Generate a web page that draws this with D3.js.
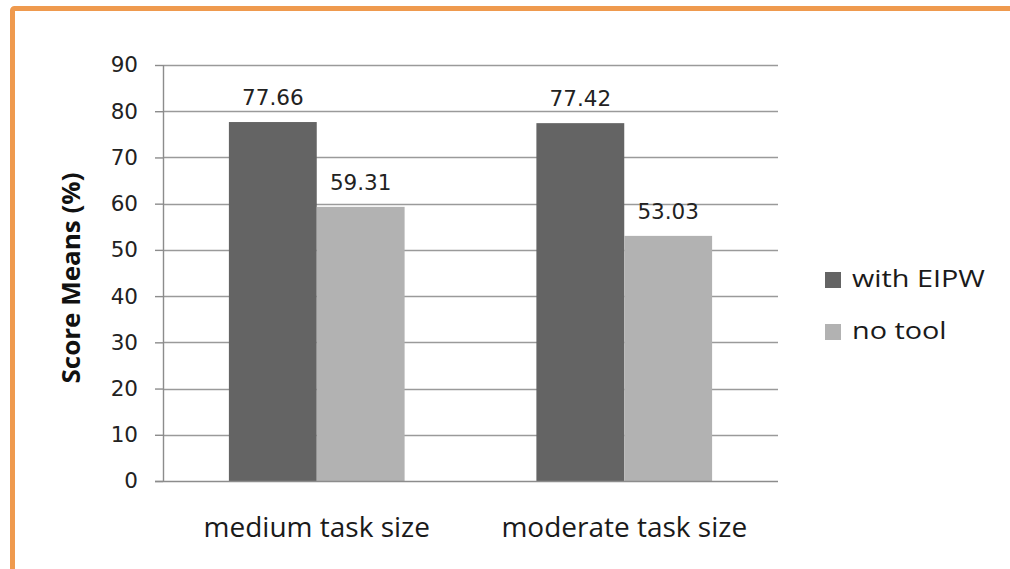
<!DOCTYPE html>
<html>
<head>
<meta charset="utf-8">
<script src="https://cdn.jsdelivr.net/npm/d3@7/dist/d3.min.js"></script>
<style>
  html, body { margin: 0; padding: 0; background: #ffffff; }
  svg { display: block; }
</style>
</head>
<body>
<svg id="chart" width="1010" height="569"></svg>
<script>
// Score means by task size, with and without the EIPW tool
const categories = ["medium task size", "moderate task size"];
const seriesNames = ["with EIPW", "no tool"];
const withEIPW = [77.66, 77.42];
const noTool = [59.31, 53.03];
const yTicks = [0, 10, 20, 30, 40, 50, 60, 70, 80, 90];
const seriesColors = ["#646464", "#b2b2b2"];

const rows = categories.map((c, i) => ({
  category: c,
  values: [
    { series: seriesNames[0], value: withEIPW[i] },
    { series: seriesNames[1], value: noTool[i] }
  ]
}));

const svg = d3.select("#chart");

// orange frame on the top and left edges
svg.append("rect")
  .attr("x", 12.5).attr("y", 8.5)
  .attr("width", 1010).attr("height", 600)
  .attr("rx", 2)
  .attr("fill", "none")
  .attr("stroke", "#ef9a4e")
  .attr("stroke-width", 5);

const plot = { left: 163, right: 778, top: 65, bottom: 481 };

const x0 = d3.scaleBand()
  .domain(categories)
  .range([plot.left, plot.right])
  .padding(0);

const x1 = d3.scaleBand()
  .domain(seriesNames)
  .range([0, x0.bandwidth()])
  .paddingInner(0)
  .paddingOuter(0.75);

const y = d3.scaleLinear()
  .domain([0, 90])
  .range([plot.bottom, plot.top]);

const color = d3.scaleOrdinal().domain(seriesNames).range(seriesColors);

// horizontal gridlines
svg.append("g")
  .selectAll("line")
  .data(yTicks.filter(t => t > 0))
  .join("line")
  .attr("x1", plot.left).attr("x2", plot.right)
  .attr("y1", d => Math.round(y(d)) + 0.5)
  .attr("y2", d => Math.round(y(d)) + 0.5)
  .attr("stroke", "#9a9a9a")
  .attr("stroke-width", 1.4);

// bars
const groups = svg.append("g")
  .selectAll("g")
  .data(rows)
  .join("g")
  .attr("transform", d => `translate(${x0(d.category)},0)`);

groups.selectAll("rect")
  .data(d => d.values)
  .join("rect")
  .attr("x", d => x1(d.series))
  .attr("y", d => y(d.value))
  .attr("width", x1.bandwidth())
  .attr("height", d => y(0) - y(d.value))
  .attr("fill", d => color(d.series));

// value labels above bars
groups.selectAll("text")
  .data(d => d.values)
  .join("text")
  .attr("x", d => x1(d.series) + x1.bandwidth() / 2)
  .attr("y", d => y(d.value) - 17)
  .attr("text-anchor", "middle")
  .attr("font-family", "DejaVu Sans")
  .attr("font-size", 21.5)
  .attr("fill", "#222")
  .text(d => d.value.toFixed(2));

// y axis
const yAxis = svg.append("g")
  .attr("transform", `translate(${plot.left},0)`)
  .call(d3.axisLeft(y).tickValues(yTicks).tickSize(8).tickPadding(17));
yAxis.select(".domain").attr("stroke", "#8c8c8c").attr("stroke-width", 1.4).attr("d", `M0.5,${plot.top}V${plot.bottom}`);
yAxis.selectAll(".tick line").attr("stroke", "#8c8c8c").attr("stroke-width", 1.4);
yAxis.selectAll(".tick text")
  .attr("font-family", "DejaVu Sans")
  .attr("font-size", 21.5)
  .attr("fill", "#222");

// x axis
const xAxis = svg.append("g")
  .attr("transform", `translate(0,${plot.bottom})`)
  .call(d3.axisBottom(x0).tickSize(0).tickPadding(36));
xAxis.select(".domain").attr("stroke", "#8c8c8c").attr("stroke-width", 1.4).attr("d", `M${plot.left - 8},0.5H${plot.right}`);
xAxis.selectAll(".tick text")
  .attr("font-family", "Open Sans")
  .attr("font-size", 28)
  .attr("fill", "#1a1a1a");

// y axis title
svg.append("text")
  .attr("transform", `translate(80,${(plot.top + plot.bottom) / 2 + 5}) rotate(-90) scale(1.04,1)`)
  .attr("text-anchor", "middle")
  .attr("font-family", "Open Sans")
  .attr("font-weight", "bold")
  .attr("font-size", 25)
  .attr("fill", "#111")
  .text("Score Means (%)");

// legend
const legend = svg.append("g")
  .selectAll("g")
  .data(seriesNames)
  .join("g")
  .attr("transform", (d, i) => `translate(825,${272 + i * 52})`);

legend.append("rect")
  .attr("width", 16).attr("height", 16)
  .attr("fill", d => color(d));

legend.append("text")
  .attr("transform", "translate(27,15) scale(1.2,1)")
  .attr("font-family", "Open Sans")
  .attr("font-size", 24)
  .attr("fill", "#1a1a1a")
  .text(d => d);
</script>
</body>
</html>
